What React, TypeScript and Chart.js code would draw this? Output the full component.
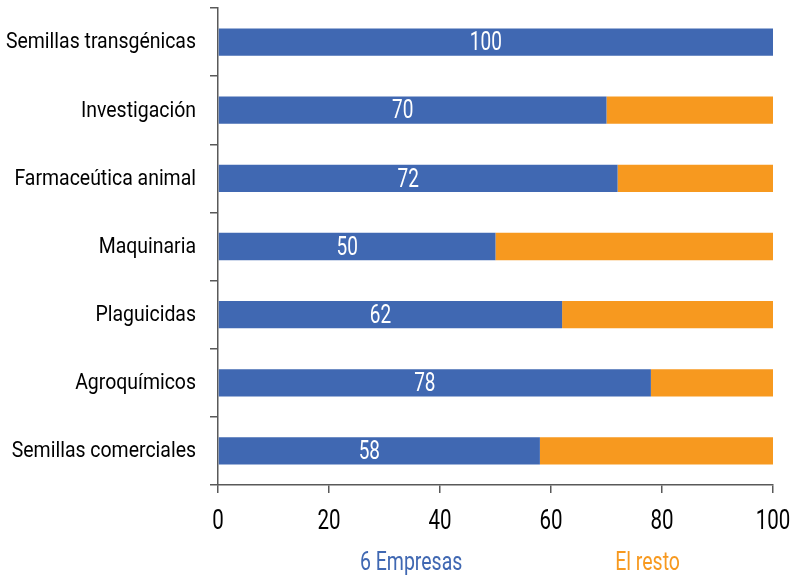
import React, { useEffect, useRef } from "react";
import { Chart, registerables } from "chart.js";

Chart.register(...registerables);

const categories = [
  "Semillas transgénicas",
  "Investigación",
  "Farmaceútica animal",
  "Maquinaria",
  "Plaguicidas",
  "Agroquímicos",
  "Semillas comerciales",
];
const empresas = [100, 70, 72, 50, 62, 78, 58];
const resto = [0, 30, 28, 50, 38, 22, 42];
const xTicks = [0, 20, 40, 60, 80, 100];
const seriesNames = ["6 Empresas", "El resto"];

const BLUE = "#4068B2";
const ORANGE = "#F7991F";
const AXIS = "#595959";
const FONT = "Roboto, 'DejaVu Sans Condensed', sans-serif";

function drawText(
  ctx: CanvasRenderingContext2D,
  text: string,
  x: number,
  y: number,
  align: CanvasTextAlign,
  size: number,
  sx: number,
  color: string
) {
  ctx.save();
  ctx.font = `${size}px ${FONT}`;
  ctx.fillStyle = color;
  ctx.textAlign = align;
  ctx.textBaseline = "middle";
  ctx.translate(x, y);
  ctx.scale(sx, 1);
  ctx.fillText(text, 0, 0);
  ctx.restore();
}

const textPlugin = {
  id: "condensedText",
  afterDraw(chart: any) {
    const ctx = chart.ctx as CanvasRenderingContext2D;
    const xs = chart.scales.x;
    const ys = chart.scales.y;
    const area = chart.chartArea;
    // category labels
    categories.forEach((c, i) => {
      drawText(ctx, c, ys.right - 22, ys.getPixelForTick(i) + 1, "right", 21.5, 0.905, "#000");
    });
    // x tick labels
    xTicks.forEach((v) => {
      drawText(ctx, String(v), xs.getPixelForValue(v), area.bottom + 37, "center", 27, 0.76, "#000");
    });
    // data labels
    const meta = chart.getDatasetMeta(0);
    meta.data.forEach((bar: any, i: number) => {
      const cx = (bar.base + bar.x) / 2 - 10;
      drawText(ctx, String(empresas[i]), cx, bar.y + 2, "center", 25, 0.76, "#ffffff");
    });
    // legend
    const ly = area.bottom + 79;
    drawText(ctx, seriesNames[0], xs.getPixelForValue(34.8), ly, "center", 25, 0.78, BLUE);
    drawText(ctx, seriesNames[1], xs.getPixelForValue(77.4), ly, "center", 25, 0.78, ORANGE);
  },
};

export default function App() {
  const ref = useRef<HTMLCanvasElement | null>(null);
  useEffect(() => {
    document.body.style.margin = "0";
    const chart = new Chart(ref.current!, {
      type: "bar",
      data: {
        labels: categories,
        datasets: [
          {
            label: seriesNames[0],
            data: empresas,
            backgroundColor: BLUE,
            barPercentage: 0.8,
            categoryPercentage: 0.5,
          },
          {
            label: seriesNames[1],
            data: resto,
            backgroundColor: ORANGE,
            barPercentage: 0.8,
            categoryPercentage: 0.5,
          },
        ],
      },
      options: {
        indexAxis: "y",
        animation: false,
        responsive: false,
        maintainAspectRatio: false,
        layout: { padding: { left: 0, right: 24, top: 8, bottom: 0 } },
        plugins: { legend: { display: false }, tooltip: { enabled: false } },
        scales: {
          x: {
            stacked: true,
            min: 0,
            max: 100,
            afterBuildTicks(scale: any) {
              scale.ticks = xTicks.map((v) => ({ value: v }));
            },
            afterFit(scale: any) {
              scale.height = 94;
            },
            grid: {
              drawOnChartArea: false,
              drawTicks: true,
              tickLength: 8,
              color: AXIS,
              lineWidth: 1.5,
            },
            border: { color: AXIS, width: 1.5 },
            ticks: { display: false },
          },
          y: {
            stacked: true,
            afterFit(scale: any) {
              scale.width = 218;
            },
            grid: {
              offset: true,
              drawOnChartArea: false,
              drawTicks: true,
              tickLength: 8,
              color: AXIS,
              lineWidth: 1.5,
            },
            border: { color: AXIS, width: 1.5 },
            ticks: { display: false },
          },
        },
      },
      plugins: [textPlugin],
    });
    return () => chart.destroy();
  }, []);
  return (
    <div style={{ width: 797, height: 579 }}>
      <canvas ref={ref} width={797} height={579} style={{ display: "block" }} />
    </div>
  );
}
